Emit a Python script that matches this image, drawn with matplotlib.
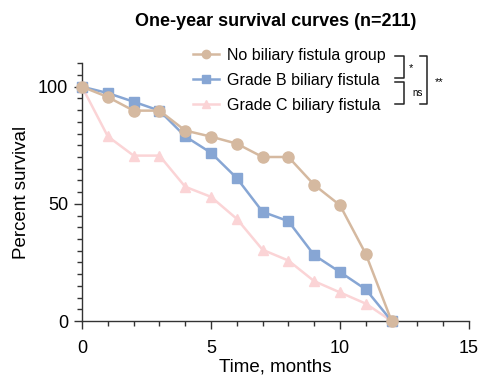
import matplotlib
matplotlib.use("Agg")
import matplotlib.pyplot as plt
from matplotlib.lines import Line2D
from matplotlib.ticker import MultipleLocator

plt.rcParams['font.family'] = ['Liberation Sans', 'DejaVu Sans']

months = [0, 1, 2, 3, 4, 5, 6, 7, 8, 9, 10, 11, 12]
no_fistula = [100, 95.6, 89.8, 89.8, 81.3, 78.7, 75.7, 70.0, 70.0, 58.1, 49.4, 28.6, 0]
grade_b = [100, 97.3, 93.6, 89.8, 78.8, 71.8, 61.0, 46.6, 42.6, 28.1, 20.9, 13.5, 0]
grade_c = [100, 78.8, 70.6, 70.6, 57.3, 53.0, 43.6, 30.4, 25.8, 17.0, 12.2, 7.4, 0]
labels = ["No biliary fistula group", "Grade B biliary fistula", "Grade C biliary fistula"]
colors = ["#d5b9a0", "#87a6d4", "#fbd4d6"]
title = "One-year survival curves (n=211)"

W, H = 482, 377
fig = plt.figure(figsize=(W / 100, H / 100), dpi=100)
ax = fig.add_axes([82 / W, 1 - 321 / H, (469 - 82) / W, (321 - 63.3) / H])

lc, = ax.plot(months, grade_c, color=colors[2], marker="^", ms=7.5, lw=1.8,
              mec=colors[2], mfc=colors[2], zorder=3)
lb, = ax.plot(months, grade_b, color=colors[1], marker="s", ms=7.5, lw=1.8,
              mec=colors[1], mfc=colors[1], zorder=4)
la, = ax.plot(months, no_fistula, color=colors[0], marker="o", ms=8, lw=1.8,
              mec=colors[0], mfc=colors[0], zorder=5)

ax.set_xlim(0, 15)
ax.set_ylim(0, 110)
ax.set_xticks([0, 5, 10, 15])
ax.set_yticks([0, 50, 100])
ax.xaxis.set_minor_locator(MultipleLocator(1))
ax.yaxis.set_minor_locator(MultipleLocator(5))
for s in ["top", "right"]:
    ax.spines[s].set_visible(False)
for s in ["left", "bottom"]:
    ax.spines[s].set_linewidth(1.0)
    ax.spines[s].set_color("#333333")
    ax.spines[s].set_clip_on(False)
ax.tick_params(which="major", length=6, width=1.0, color="#333333", labelsize=13, pad=4)
ax.tick_params(axis="x", which="major", pad=8)
ax.tick_params(which="minor", length=3.5, width=1.0, color="#333333")
for l in ax.get_lines():
    l.set_clip_on(False)

ax.set_xlabel("Time, months", fontsize=13.5, labelpad=1)
ax.set_ylabel("Percent survival", fontsize=13.5, labelpad=6)
ax.set_title(title, fontsize=13, fontweight="bold", pad=27)

leg = fig.legend([la, lb, lc], labels, loc="upper left",
                 bbox_to_anchor=(193 / W, 1 - 48 / H), bbox_transform=fig.transFigure,
                 frameon=False, fontsize=11.5, handlelength=1.6, handletextpad=0.55,
                 labelspacing=0.62, borderpad=0, borderaxespad=0)
for h in leg.legend_handles:
    h.set_markersize(6)

def fx(x):
    return x / W

def fy(y):
    return 1 - y / H

def bracket(x, y0, y1, stub):
    fig.add_artist(Line2D([fx(x - stub), fx(x), fx(x), fx(x - stub)],
                          [fy(y0), fy(y0), fy(y1), fy(y1)],
                          color="#222222", lw=1.1, transform=fig.transFigure))

bracket(404, 56, 78, 9)
bracket(404, 82, 104, 9)
bracket(427, 56, 104, 7)
fig.text(fx(411), fy(68), "*", fontsize=8, ha="center", va="center")
fig.text(fx(418), fy(93), "ns", fontsize=7, ha="center", va="center")
fig.text(fx(439), fy(82), "**", fontsize=8, ha="center", va="center")

fig.savefig("out.png", dpi=100)
